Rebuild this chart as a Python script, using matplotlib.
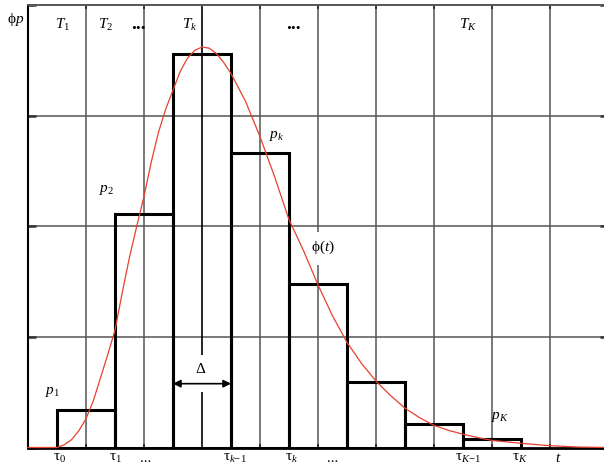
import matplotlib
matplotlib.use("Agg")
import matplotlib.pyplot as plt

# histogram bins: left edges (tau_0 ... tau_{K-1}), width delta, heights p_i
bin_left = [0.5, 1.5, 2.5, 3.5, 4.5, 5.5, 6.5, 7.5]
bin_width = 1.0
p_vals = [0.335, 2.115, 3.56, 2.665, 1.475, 0.595, 0.215, 0.075]

# density curve phi(t)
curve_t = [0.0, 0.25, 0.5, 0.625, 0.75, 0.875, 1.0, 1.125, 1.25, 1.375, 1.5,
           1.625, 1.75, 1.875, 2.0, 2.125, 2.25, 2.375, 2.5, 2.625, 2.75, 2.875,
           3.0, 3.125, 3.25, 3.375, 3.5, 3.75, 4.0, 4.25, 4.5, 4.75, 5.0, 5.25,
           5.5, 5.75, 6.0, 6.25, 6.5, 6.75, 7.0, 7.25, 7.5, 7.75, 8.0, 8.5, 9.0,
           9.5, 10.0]
curve_phi = [0.0, 0.0, 0.0, 0.025, 0.07, 0.15, 0.26, 0.42, 0.63, 0.84, 1.06,
             1.40, 1.72, 2.00, 2.27, 2.58, 2.85, 3.06, 3.23, 3.40, 3.52, 3.59,
             3.62, 3.61, 3.56, 3.48, 3.38, 3.13, 2.81, 2.45, 2.06, 1.78, 1.47, 1.19,
             0.95, 0.76, 0.60, 0.47, 0.355, 0.27, 0.20, 0.155, 0.12, 0.09, 0.064,
             0.038, 0.016, 0.004, 0.0]

top_labels = [(0.59, r"$T_1$"), (1.33, r"$T_2$"), (2.79, r"$T_k$"), (7.59, r"$T_K$")]
top_dots = [1.91, 4.57]
bottom_labels = [(0.55, r"$\mathrm{\tau}_0$"), (1.5, r"$\mathrm{\tau}_1$"), (2.03, "..."),
                 (3.57, r"$\mathrm{\tau}_{k\mathrm{-}1}$"), (4.55, r"$\mathrm{\tau}_k$"),
                 (5.26, "..."), (7.59, r"$\mathrm{\tau}_{K\mathrm{-}1}$"),
                 (8.48, r"$\mathrm{\tau}_K$"), (9.14, r"$t$")]

plt.rcParams["font.family"] = "Liberation Serif"
plt.rcParams["mathtext.fontset"] = "custom"
plt.rcParams["mathtext.rm"] = "Liberation Serif"
plt.rcParams["mathtext.it"] = "Liberation Serif:italic"
plt.rcParams["mathtext.bf"] = "Liberation Serif:bold"

fig = plt.figure(figsize=(6.04, 4.66), dpi=100)
ax = fig.add_axes([28 / 604, 18.5 / 466, 580 / 604, 442.5 / 466])
ax.set_xlim(0, 10)
ax.set_ylim(0, 4)

grid_col = "#555555"
# grid
for y in [1, 2, 3]:
    ax.axhline(y, color=grid_col, lw=1.1, zorder=1)
for x in [1, 2, 4, 6, 7, 8, 9]:
    ax.axvline(x, color=grid_col, lw=1.1, zorder=1)
# centre line of the T_k interval, broken around the delta label
ax.vlines(3, 0, 0.5, color="black", lw=1.2, zorder=1)
ax.vlines(3, 0.84, 4, color="black", lw=1.2, zorder=1)
# line at t=5, broken around the phi(t) label
ax.vlines(5, 0, 1.65, color=grid_col, lw=1.1, zorder=1)
ax.vlines(5, 1.95, 4, color=grid_col, lw=1.1, zorder=1)

# histogram
ax.bar(bin_left, p_vals, width=bin_width, align="edge", fill=False,
       edgecolor="black", linewidth=2.2, zorder=3)

# density curve
ax.plot(curve_t, curve_phi, color="#e8402e", lw=0.9, zorder=5, clip_on=False)

# delta arrow
ax.annotate("", xy=(2.5, 0.577), xytext=(3.5, 0.577),
            arrowprops=dict(arrowstyle="<|-|>", color="black", lw=1.2,
                            shrinkA=0, shrinkB=0, mutation_scale=11), zorder=4)
ax.text(2.98, 0.71, r"$\Delta$", fontsize=11, ha="center", va="center")

# labels
fs = 11
for x, s in top_labels:
    ax.text(x, 3.82, s, fontsize=fs, ha="center", va="center")
for x in top_dots:
    ax.text(x, 3.78, "...", fontsize=14, fontweight="bold", ha="center", va="baseline")
ax.text(-0.22, 3.87, r"$\mathrm{\phi}p$", fontsize=fs, ha="center", va="center")
ax.text(0.43, 0.50, r"$p_1$", fontsize=fs, ha="center", va="center")
ax.text(1.36, 2.33, r"$p_2$", fontsize=fs, ha="center", va="center")
ax.text(4.29, 2.82, r"$p_k$", fontsize=fs, ha="center", va="center")
ax.text(8.14, 0.275, r"$p_K$", fontsize=fs, ha="center", va="center")
ax.text(5.09, 1.81, r"$\mathrm{\phi}(t)$", fontsize=fs, ha="center", va="center")
for x, s in bottom_labels:
    ax.text(x, -0.10, s, fontsize=fs, ha="center", va="center", clip_on=False)

# axes frame and inward ticks
ax.set_xticks(range(0, 11))
ax.set_yticks(range(0, 5))
ax.set_xticklabels([])
ax.set_yticklabels([])
ax.tick_params(axis="y", direction="in", length=6, width=1.8, left=True, right=True,
               color="#333333")
ax.tick_params(axis="x", direction="in", length=3, width=1.4, top=True, bottom=True,
               color="#333333")
ax.spines["left"].set_linewidth(1.5)
ax.spines["bottom"].set_linewidth(2.0)
ax.spines["top"].set_color(grid_col)
ax.spines["top"].set_linewidth(1.4)
ax.spines["right"].set_visible(False)

fig.savefig("out.png", dpi=100)
